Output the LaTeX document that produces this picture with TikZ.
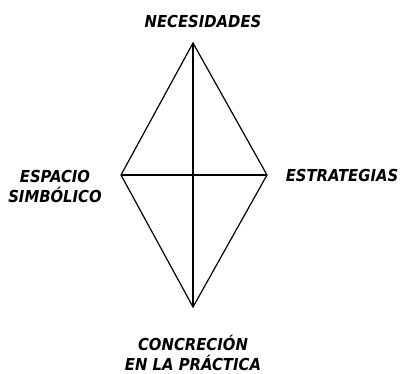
\documentclass[tikz,border=0pt]{standalone}
\usepackage{fontspec}
\setmainfont{DejaVu Sans Condensed}
\usepackage{tikz}
\tikzset{etiqueta/.style={inner sep=0pt, align=center, font=\fontsize{16.5}{20}\selectfont\bfseries\itshape}}

\begin{document}
\begin{tikzpicture}[x=1pt, y=-1pt, line width=1.2pt]
        \useasboundingbox (0,0) rectangle (405,374);
        % Vertici del rombo
        \coordinate (arriba) at (193,43);
        \coordinate (abajo) at (193,307);
        \coordinate (izq) at (121,175);
        \coordinate (der) at (267,175);
        % Rombo y diagonales
        \draw (arriba) -- (der) -- (abajo) -- (izq) -- cycle;
        \draw (arriba) -- (abajo);
        \draw (izq) -- (der);
        % Etichette
        \node[etiqueta] (nec) at (203,21) {NECESIDADES};
        \node[etiqueta] (esp) at (55,186) {ESPACIO\\SIMBÓLICO};
        \node[etiqueta] (est) at (342,175) {ESTRATEGIAS};
        \node[etiqueta] (con) at (193,353) {CONCRECIÓN\\EN LA PRÁCTICA};
    \end{tikzpicture}
\end{document}
